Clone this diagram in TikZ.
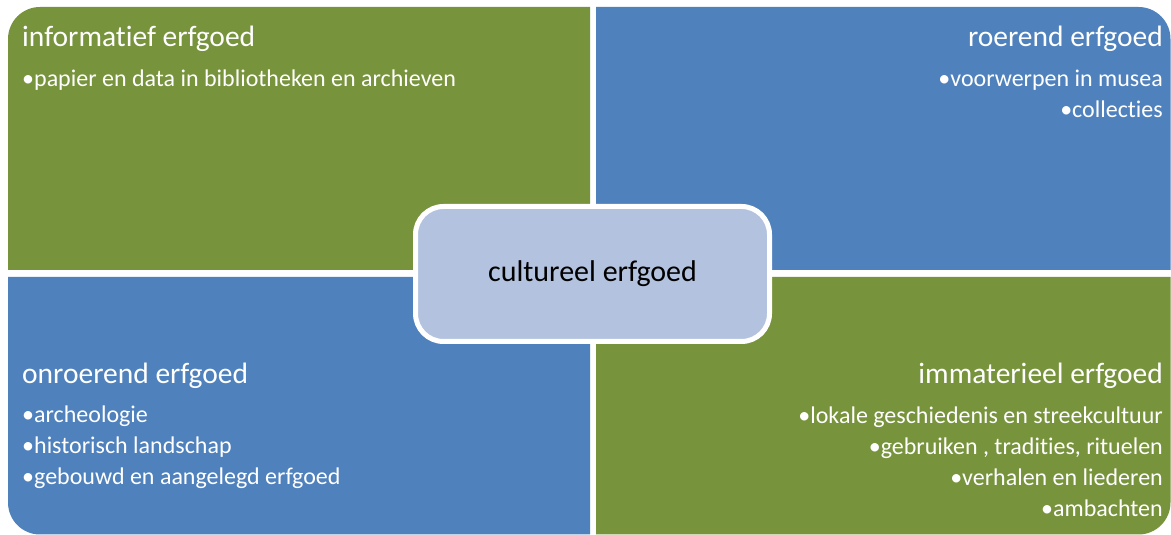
\documentclass[tikz,border=0pt]{standalone}
\usepackage{fontspec}
\setmainfont{Carlito}[Ligatures=NoCommon]
\usepackage{tikz}

\definecolor{erfgreen}{RGB}{119,147,60}
\definecolor{erfblue}{RGB}{79,129,189}
\definecolor{hubblue}{RGB}{179,194,222}

\begin{document}
\begin{tikzpicture}[x=1pt, y=1pt,
        title/.style = {font = {\fontsize{29.5}{34}\selectfont}, text=white, inner sep=0pt},
        item/.style = {font = {\fontsize{24}{28}\selectfont}, text=white, inner sep=0pt},
        hub/.style = {draw=white, line width=5pt, fill=hubblue, rounded corners=28pt,
                      minimum width=354pt, minimum height=135pt, inner sep=0pt,
                      font = {\fontsize{30}{34}\selectfont}, text=black}]
        \useasboundingbox (0,0) rectangle (1171,535);

        % the four quarters, one round corner each
        \fill[erfgreen] (8,265) -- (8,496) arc[start angle=180, end angle=90, radius=32] -- (590,528) -- (590,265) -- cycle;
        \fill[erfblue] (596,265) -- (596,528) -- (1138.5,528) arc[start angle=90, end angle=0, radius=32] -- (1170.5,265) -- cycle;
        \fill[erfblue] (590,258) -- (8,258) -- (8,32.5) arc[start angle=180, end angle=270, radius=32] -- (590,0.5) -- cycle;
        \fill[erfgreen] (596,258) -- (1170.5,258) -- (1170.5,32.5) arc[start angle=0, end angle=-90, radius=32] -- (596,0.5) -- cycle;

        % informatief
        \node[title, anchor=base west] (info) at (22, 488.5) {informatief erfgoed};
        \node[item, anchor=base west] (info1) at (22, 448.5) {•papier en data in bibliotheken en archieven};

        % roerend
        \node[title, anchor=base east] (roer) at (1163, 488.5) {roerend erfgoed};
        \node[item, anchor=base east] (roer1) at (1163, 448.5) {•voorwerpen in musea};
        \node[item, anchor=base east] (roer2) at (1163, 417.5) {•collecties};

        % onroerend
        \node[title, anchor=base west] (onroer) at (22, 151.5) {onroerend erfgoed};
        \foreach \txt [count=\i] in {archeologie, historisch landschap, gebouwd en aangelegd erfgoed}
            \node[item, anchor=base west] (onroer\i) at (22, 143-31*\i) {•\txt};

        % immaterieel
        \node[title, anchor=base east] (immat) at (1163, 151.5) {immaterieel erfgoed};
        \foreach \txt [count=\i] in {lokale geschiedenis en streekcultuur, {gebruiken , tradities, rituelen}, verhalen en liederen, ambachten}
            \node[item, anchor=base east] (immat\i) at (1163, 142.5-31*\i) {•\txt};

        \node[hub] (hub) at (592.5, 261) {cultureel erfgoed};
    \end{tikzpicture}
\end{document}
